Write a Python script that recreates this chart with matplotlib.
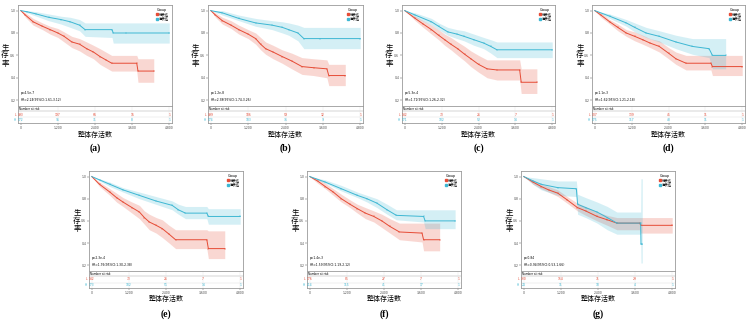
import matplotlib
matplotlib.use('Agg')
import matplotlib.pyplot as plt
from matplotlib.lines import Line2D

plt.rcParams['font.family'] = ['DejaVu Sans']

W, H = 749, 322
RED = '#E64B35'
BLUE = '#3DB7D3'
FRAME = '#9a9a9a'
CJK = ['Noto Sans CJK SC', 'DejaVu Sans']

XTICKS = [0, 1200, 2400, 3600, 4800]
XTICK_LABELS = ['0', '1,200', '2,400', '3,600', '4,800']
YTICKS = [0.2, 0.4, 0.6, 0.8, 1.0]
YTICK_LABELS = ['0.2', '0.4', '0.6', '0.8', '1.0']
GROUPS = ['低表达', '高表达']
XLABEL = '整体存活数'
YLABEL = '生存率'

# ---- panel (a) ----
A_LOW_T = [0, 150, 400, 700, 950, 1200, 1400, 1650, 1900, 2130, 2350, 2560, 2750, 2940, 3750, 3790, 4300]
A_LOW_S = [1.0, 0.96, 0.90, 0.86, 0.83, 0.80, 0.77, 0.72, 0.70, 0.66, 0.63, 0.59, 0.56, 0.53, 0.53, 0.46, 0.46]
A_LOW_LO = [1.0, 0.94, 0.87, 0.83, 0.79, 0.76, 0.72, 0.67, 0.64, 0.60, 0.57, 0.52, 0.49, 0.46, 0.46, 0.36, 0.36]
A_LOW_HI = [1.0, 0.98, 0.93, 0.89, 0.86, 0.84, 0.81, 0.77, 0.75, 0.72, 0.69, 0.66, 0.63, 0.60, 0.60, 0.57, 0.57]
A_HIGH_T = [0, 200, 500, 900, 1300, 1600, 1900, 2080, 2950, 2990, 3400, 4800]
A_HIGH_S = [1.0, 0.99, 0.97, 0.94, 0.92, 0.90, 0.87, 0.83, 0.83, 0.80, 0.80, 0.80]
A_HIGH_LO = [1.0, 0.98, 0.95, 0.91, 0.88, 0.85, 0.82, 0.77, 0.76, 0.71, 0.71, 0.71]
A_HIGH_HI = [1.0, 1.0, 0.99, 0.97, 0.95, 0.94, 0.92, 0.89, 0.89, 0.89, 0.89, 0.89]
A_RISK_LOW = [393, 197, 66, 16, 1]
A_RISK_HIGH = [172, 95, 31, 8, 1]

# ---- panel (b) ----
B_LOW_T = [0, 150, 370, 650, 900, 1200, 1440, 1600, 1760, 2000, 2290, 2600, 2930, 3300, 3730, 3790, 4320]
B_LOW_S = [1.0, 0.96, 0.91, 0.87, 0.83, 0.79, 0.75, 0.70, 0.66, 0.63, 0.59, 0.55, 0.50, 0.49, 0.48, 0.42, 0.42]
B_LOW_LO = [1.0, 0.94, 0.88, 0.84, 0.79, 0.75, 0.70, 0.65, 0.61, 0.57, 0.53, 0.48, 0.43, 0.42, 0.40, 0.33, 0.33]
B_LOW_HI = [1.0, 0.98, 0.94, 0.91, 0.87, 0.83, 0.80, 0.76, 0.72, 0.69, 0.65, 0.62, 0.58, 0.57, 0.56, 0.52, 0.52]
B_HIGH_T = [0, 370, 900, 1440, 1970, 2300, 2500, 2800, 2990, 3500, 4800]
B_HIGH_S = [1.0, 0.98, 0.93, 0.89, 0.87, 0.85, 0.83, 0.80, 0.75, 0.75, 0.75]
B_HIGH_LO = [1.0, 0.96, 0.91, 0.86, 0.83, 0.80, 0.78, 0.73, 0.66, 0.66, 0.66]
B_HIGH_HI = [1.0, 1.0, 0.96, 0.93, 0.91, 0.90, 0.89, 0.87, 0.85, 0.85, 0.85]
B_RISK_LOW = [399, 186, 59, 12, 1]
B_RISK_HIGH = [174, 103, 36, 9, 1]

# ---- panel (c) ----
C_LOW_T = [0, 340, 600, 870, 1100, 1300, 1500, 1720, 1950, 2150, 2400, 2680, 3000, 3740, 3790, 4300]
C_LOW_S = [1.0, 0.93, 0.88, 0.83, 0.78, 0.74, 0.70, 0.66, 0.61, 0.57, 0.52, 0.48, 0.47, 0.47, 0.36, 0.36]
C_LOW_LO = [1.0, 0.91, 0.85, 0.79, 0.74, 0.69, 0.65, 0.60, 0.55, 0.50, 0.45, 0.40, 0.38, 0.38, 0.26, 0.26]
C_LOW_HI = [1.0, 0.95, 0.91, 0.87, 0.83, 0.79, 0.76, 0.72, 0.68, 0.64, 0.60, 0.56, 0.56, 0.56, 0.48, 0.48]
C_HIGH_T = [0, 340, 870, 1100, 1400, 1700, 1930, 2250, 2570, 2800, 3000, 4800]
C_HIGH_S = [1.0, 0.96, 0.90, 0.86, 0.81, 0.79, 0.77, 0.74, 0.71, 0.68, 0.65, 0.65]
C_HIGH_LO = [1.0, 0.94, 0.87, 0.83, 0.78, 0.75, 0.73, 0.69, 0.66, 0.62, 0.58, 0.58]
C_HIGH_HI = [1.0, 0.98, 0.93, 0.89, 0.85, 0.83, 0.82, 0.79, 0.76, 0.74, 0.72, 0.72]
C_RISK_LOW = [142, 73, 26, 7, 1]
C_RISK_HIGH = [171, 102, 52, 14, 1]

# ---- panel (d) ----
D_LOW_T = [0, 200, 485, 750, 1025, 1300, 1560, 1800, 2100, 2400, 2640, 2970, 3780, 3830, 4800]
D_LOW_S = [1.0, 0.96, 0.90, 0.85, 0.80, 0.77, 0.74, 0.71, 0.68, 0.62, 0.57, 0.53, 0.53, 0.50, 0.50]
D_LOW_LO = [1.0, 0.94, 0.88, 0.82, 0.77, 0.73, 0.70, 0.67, 0.63, 0.57, 0.52, 0.47, 0.47, 0.42, 0.42]
D_LOW_HI = [1.0, 0.98, 0.92, 0.88, 0.83, 0.81, 0.78, 0.75, 0.73, 0.67, 0.63, 0.60, 0.60, 0.60, 0.60]
D_HIGH_T = [0, 485, 1025, 1300, 1670, 2100, 2640, 3180, 3720, 3830, 4260]
D_HIGH_S = [1.0, 0.95, 0.89, 0.85, 0.80, 0.77, 0.72, 0.68, 0.66, 0.60, 0.60]
D_HIGH_LO = [1.0, 0.93, 0.86, 0.81, 0.76, 0.72, 0.66, 0.61, 0.58, 0.48, 0.48]
D_HIGH_HI = [1.0, 0.97, 0.92, 0.89, 0.85, 0.82, 0.78, 0.75, 0.75, 0.75, 0.75]
D_RISK_LOW = [307, 139, 45, 11, 1]
D_RISK_HIGH = [175, 117, 48, 11, 1]

# ---- panel (e) ----
E_LOW_T = [0, 250, 584, 800, 1009, 1300, 1540, 1700, 1860, 2080, 2280, 2500, 2710, 3720, 3770, 4300]
E_LOW_S = [1.0, 0.93, 0.86, 0.81, 0.77, 0.72, 0.68, 0.63, 0.59, 0.56, 0.53, 0.48, 0.43, 0.43, 0.35, 0.35]
E_LOW_LO = [1.0, 0.91, 0.83, 0.77, 0.73, 0.67, 0.62, 0.57, 0.52, 0.49, 0.45, 0.40, 0.35, 0.35, 0.26, 0.26]
E_LOW_HI = [1.0, 0.95, 0.89, 0.85, 0.81, 0.77, 0.74, 0.69, 0.66, 0.63, 0.61, 0.56, 0.52, 0.52, 0.51, 0.51]
E_HIGH_T = [0, 250, 584, 1009, 1540, 2070, 2600, 2800, 3030, 3720, 3770, 4800]
E_HIGH_S = [1.0, 0.97, 0.93, 0.88, 0.83, 0.78, 0.74, 0.70, 0.67, 0.67, 0.64, 0.64]
E_HIGH_LO = [1.0, 0.96, 0.91, 0.86, 0.80, 0.75, 0.70, 0.66, 0.62, 0.62, 0.57, 0.57]
E_HIGH_HI = [1.0, 0.98, 0.95, 0.90, 0.86, 0.82, 0.78, 0.75, 0.73, 0.73, 0.71, 0.71]
E_RISK_LOW = [142, 73, 26, 7, 1]
E_RISK_HIGH = [173, 102, 51, 14, 1]

# ---- panel (f) ----
F_LOW_T = [0, 250, 500, 760, 1020, 1300, 1540, 1800, 2070, 2330, 2590, 2900, 3630, 3680, 4200]
F_LOW_S = [1.0, 0.96, 0.91, 0.86, 0.80, 0.75, 0.71, 0.67, 0.64, 0.60, 0.55, 0.50, 0.49, 0.43, 0.43]
F_LOW_LO = [1.0, 0.94, 0.89, 0.83, 0.77, 0.72, 0.67, 0.62, 0.59, 0.54, 0.49, 0.43, 0.41, 0.33, 0.33]
F_LOW_HI = [1.0, 0.98, 0.94, 0.89, 0.84, 0.79, 0.75, 0.72, 0.69, 0.66, 0.62, 0.58, 0.58, 0.58, 0.58]
F_HIGH_T = [0, 500, 1020, 1540, 1850, 2170, 2500, 2800, 3680, 3730, 4700]
F_HIGH_S = [1.0, 0.95, 0.89, 0.83, 0.80, 0.76, 0.70, 0.65, 0.64, 0.60, 0.60]
F_HIGH_LO = [1.0, 0.94, 0.87, 0.81, 0.77, 0.72, 0.66, 0.61, 0.59, 0.53, 0.53]
F_HIGH_HI = [1.0, 0.97, 0.92, 0.86, 0.83, 0.80, 0.75, 0.70, 0.70, 0.70, 0.70]
F_RISK_LOW = [176, 85, 27, 7, 1]
F_RISK_HIGH = [214, 115, 41, 17, 1]

# ---- panel (g) ----
G_LOW_T = [0, 300, 564, 800, 1100, 1400, 1735, 2000, 2370, 2700, 3010, 3750, 3780, 4800]
G_LOW_S = [1.0, 0.95, 0.91, 0.88, 0.85, 0.79, 0.72, 0.69, 0.64, 0.61, 0.58, 0.58, 0.56, 0.56]
G_LOW_LO = [1.0, 0.93, 0.89, 0.86, 0.82, 0.76, 0.69, 0.65, 0.60, 0.56, 0.52, 0.52, 0.49, 0.49]
G_LOW_HI = [1.0, 0.97, 0.93, 0.91, 0.88, 0.82, 0.76, 0.73, 0.68, 0.65, 0.63, 0.63, 0.63, 0.63]
G_HIGH_T = [0, 300, 564, 1100, 1700, 1740, 2000, 2370, 2700, 3010, 3780, 3790, 3830]
G_HIGH_S = [1.0, 0.96, 0.93, 0.90, 0.89, 0.75, 0.72, 0.68, 0.63, 0.58, 0.58, 0.39, 0.39]
G_HIGH_LO = [1.0, 0.93, 0.88, 0.83, 0.82, 0.66, 0.63, 0.58, 0.52, 0.48, 0.48, 0.22, 0.22]
G_HIGH_HI = [1.0, 0.99, 0.98, 0.96, 0.96, 0.84, 0.81, 0.77, 0.73, 0.68, 0.68, 0.98, 0.98]
G_RISK_LOW = [330, 154, 71, 29, 1]
G_RISK_HIGH = [24, 11, 10, 4, 1]

P_TEXT = ['p=4.5e-7', 'p=1.2e-8', 'p=5.3e-4', 'p=1.1e-3', 'p=2.3e-4', 'p=1.4e-3', 'p=0.84']
HR_TEXT = ['HR=2.24(95%CI:1.61-3.12)', 'HR=2.38(95%CI:1.74-3.26)', 'HR=1.71(95%CI:1.26-2.32)',
           'HR=1.62(95%CI:1.21-2.18)', 'HR=1.76(95%CI:1.30-2.38)', 'HR=1.59(95%CI:1.19-2.12)',
           'HR=0.94(95%CI:0.53-1.66)']
CAPTIONS = ['(a)', '(b)', '(c)', '(d)', '(e)', '(f)', '(g)']

CURVES = [
    ((A_LOW_T, A_LOW_S, A_LOW_LO, A_LOW_HI), (A_HIGH_T, A_HIGH_S, A_HIGH_LO, A_HIGH_HI), A_RISK_LOW, A_RISK_HIGH),
    ((B_LOW_T, B_LOW_S, B_LOW_LO, B_LOW_HI), (B_HIGH_T, B_HIGH_S, B_HIGH_LO, B_HIGH_HI), B_RISK_LOW, B_RISK_HIGH),
    ((C_LOW_T, C_LOW_S, C_LOW_LO, C_LOW_HI), (C_HIGH_T, C_HIGH_S, C_HIGH_LO, C_HIGH_HI), C_RISK_LOW, C_RISK_HIGH),
    ((D_LOW_T, D_LOW_S, D_LOW_LO, D_LOW_HI), (D_HIGH_T, D_HIGH_S, D_HIGH_LO, D_HIGH_HI), D_RISK_LOW, D_RISK_HIGH),
    ((E_LOW_T, E_LOW_S, E_LOW_LO, E_LOW_HI), (E_HIGH_T, E_HIGH_S, E_HIGH_LO, E_HIGH_HI), E_RISK_LOW, E_RISK_HIGH),
    ((F_LOW_T, F_LOW_S, F_LOW_LO, F_LOW_HI), (F_HIGH_T, F_HIGH_S, F_HIGH_LO, F_HIGH_HI), F_RISK_LOW, F_RISK_HIGH),
    ((G_LOW_T, G_LOW_S, G_LOW_LO, G_LOW_HI), (G_HIGH_T, G_HIGH_S, G_HIGH_LO, G_HIGH_HI), G_RISK_LOW, G_RISK_HIGH),
]

# panel boxes in pixels: left, right, ylabel x; rows = top, plot bottom, table bottom, xlabel y, caption y
TOP = (5, 106, 123, 135, 148)
BOT = (171, 271, 288, 299, 314)
BOXES = [(18, 172, 5, TOP), (208, 363, 195, TOP), (402, 555, 389, TOP), (592, 745, 580, TOP),
         (89, 243, 77, BOT), (307, 461, 295, BOT), (521, 675, 509, BOT)]


def fx(x):
    return x / W


def fy(y):
    return 1 - y / H


def style_spines(ax):
    for sp in ax.spines.values():
        sp.set_color(FRAME)
        sp.set_linewidth(0.6)


def draw_curve(ax, curve, color):
    t, s, lo, hi = curve
    ax.fill_between(t, lo, hi, color=color, alpha=0.22, lw=0)
    ax.plot(t, s, color=color, lw=0.7)
    ax.plot(t[1:], s[1:], ls='none', marker='|', ms=1.6, mew=0.35, color=color)


fig = plt.figure(figsize=(W / 100, H / 100), dpi=100)

for i, (left, right, ylx, rows) in enumerate(BOXES):
    top, mid, bot, xly, capy = rows
    low, high, risk_low, risk_high = CURVES[i]

    ax = fig.add_axes([fx(left), fy(mid), fx(right - left), (mid - top) / H])
    draw_curve(ax, low, RED)
    draw_curve(ax, high, BLUE)
    ax.set_xlim(-90, 4890)
    ax.set_ylim(0.148, 1.05)
    ax.set_xticks(XTICKS)
    ax.set_xticklabels([])
    ax.tick_params(axis='x', length=0)
    ax.set_yticks(YTICKS)
    ax.set_yticklabels(YTICK_LABELS, fontsize=2.2)
    ax.tick_params(axis='y', length=1.2, width=0.3, pad=0.8, colors='#444444')
    style_spines(ax)
    ax.text(0.015, 0.115, P_TEXT[i], transform=ax.transAxes, fontsize=2.2)
    ax.text(0.015, 0.05, HR_TEXT[i], transform=ax.transAxes, fontsize=2.2)
    handles = [Line2D([], [], ls='none', marker='s', ms=1.8, color=RED),
               Line2D([], [], ls='none', marker='s', ms=1.8, color=BLUE)]
    leg = ax.legend(handles, GROUPS, title='Group', loc='upper right', frameon=False,
                    title_fontsize=2.4, handlelength=0.5, handletextpad=0.3,
                    borderpad=0.3, labelspacing=0.15, prop={'family': CJK, 'size': 2.4})
    leg._legend_box.align = 'left'

    # number at risk table
    tb = fig.add_axes([fx(left), fy(bot), fx(right - left), (bot - mid) / H])
    tb.set_xlim(-90, 4890)
    h = bot - mid
    tb.set_ylim(0, h)
    tb.axhline(h - 5, color=FRAME, lw=0.3)
    tb.axhline(h - 11.5, color='#dddddd', lw=0.3)
    for x in XTICKS:
        tb.axvline(x, color='#e4e4e4', lw=0.3)
    tb.text(-60, h - 2.8, 'Number at risk', fontsize=2, va='center')
    for x, nl, nh in zip(XTICKS, risk_low, risk_high):
        tb.text(x, h - 8.5, str(nl), color=RED, fontsize=2.2, ha='center', va='center')
        tb.text(x, h - 14, str(nh), color=BLUE, fontsize=2.2, ha='center', va='center')
    tb.text(-150, h - 8.5, 'L', color=RED, fontsize=2.2, ha='right', va='center')
    tb.text(-150, h - 14, 'H', color=BLUE, fontsize=2.2, ha='right', va='center')
    tb.set_yticks([])
    tb.set_xticks(XTICKS)
    tb.set_xticklabels(XTICK_LABELS, fontsize=2.2)
    tb.tick_params(axis='x', length=1.2, width=0.3, pad=0.8, colors='#444444')
    style_spines(tb)

    cx = (left + right) / 2
    fig.text(fx(cx), fy(xly), XLABEL, family=CJK, fontsize=5, ha='center', va='center')
    cy = (top + mid) / 2
    for k, ch in enumerate(YLABEL):
        fig.text(fx(ylx), fy(cy + (k - 1) * 8.5), ch, family=CJK, fontsize=5.4,
                 ha='center', va='center')
    fig.text(fx(cx), fy(capy), CAPTIONS[i], family='Liberation Serif', fontweight='bold',
             fontsize=7, ha='center', va='center')

fig.savefig('out.png', dpi=100)
